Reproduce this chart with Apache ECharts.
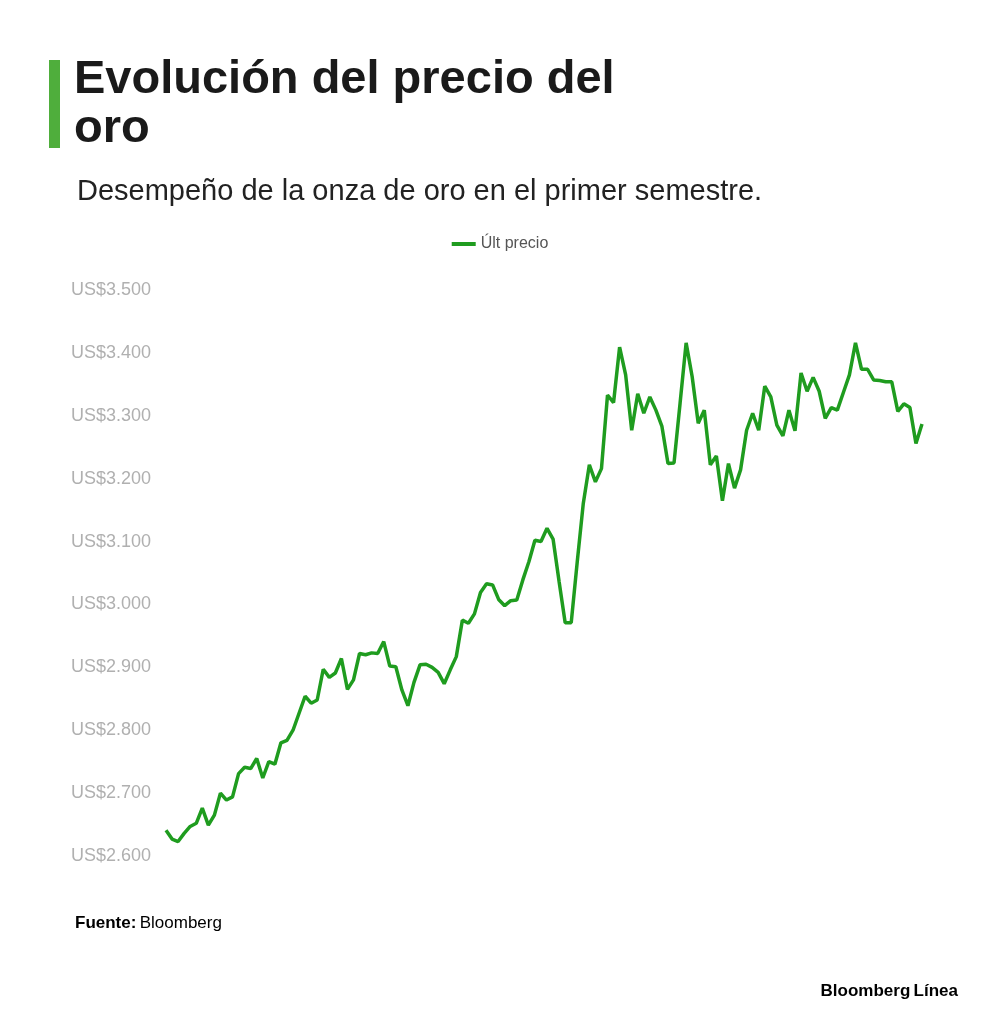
<!DOCTYPE html>
<html><head><meta charset="utf-8">
<script src="https://cdn.jsdelivr.net/npm/echarts@6/dist/echarts.min.js"></script>
<style>html,body{margin:0;padding:0;background:#fff}#c{width:1000px;height:1034px}</style>
</head><body><div id="c"></div>
<script>
const seriesName = 'Últ precio';
const prices = [
2641,2627,2623,2636,2647,2652,2676,2649,2665,2700,
2689,2694,2731,2741,2739,2755,2724,2750,2746,2780,
2784,2800,2827,2854,2843,2848,2897,2884,2891,2914,
2865,2880,2922,2920,2923,2922,2941,2902,2901,2864,
2839,2876,2904,2905,2900,2892,2874,2896,2917,2975,
2970,2985,3019,3033,3031,3008,2998,3006,3007,3039,
3068,3102,3100,3121,3104,3036,2971,2971,3068,3161,
3222,3195,3216,3333,3321,3409,3365,3277,3335,3304,
3330,3309,3283,3224,3225,3320,3416,3362,3288,3309,
3222,3236,3165,3224,3185,3214,3277,3304,3277,3347,
3330,3285,3268,3309,3276,3368,3339,3361,3339,3296,
3313,3309,3337,3365,3416,3374,3374,3357,3356,3354,
3354,3307,3319,3313,3256,3287];
const days = prices.map((_, i) => 'Día ' + (i + 1));
const yMin = 2600, yMax = 3500, yStep = 100;
const titleLines = ['Evolución del precio del', 'oro'];
const subtitle = 'Desempeño de la onza de oro en el primer semestre.';

const fmt = v => 'US$' + String(v).replace(/\B(?=(\d{3})+(?!\d))/g, '.');
const chart = echarts.init(document.getElementById('c'), null, {renderer: 'canvas'});
const FONT = '"Liberation Sans", Arial, sans-serif';
chart.setOption({
  animation: false,
  backgroundColor: '#fff',
  textStyle: {fontFamily: FONT},
  graphic: [
    {type: 'rect', shape: {x: 49, y: 60, width: 11, height: 88}, style: {fill: '#4fae3c'}},
    {type: 'text', x: 74, y: 80, style: {text: titleLines[0], font: 'bold 47px ' + FONT, fill: '#1a1a1a', textVerticalAlign: 'middle'}},
    {type: 'text', x: 74, y: 129, style: {text: titleLines[1], font: 'bold 47px ' + FONT, fill: '#1a1a1a', textVerticalAlign: 'middle'}},
    {type: 'text', x: 77, y: 192, style: {text: subtitle, font: '29px ' + FONT, fill: '#222', textVerticalAlign: 'middle'}},
    {type: 'text', x: 75, y: 923, style: {text: '{b|Fuente:} {r|Bloomberg}', textVerticalAlign: 'middle',
      rich: {b: {font: 'bold 17px ' + FONT, color: '#222'}, r: {font: '17px ' + FONT, color: '#444'}}}},
    {type: 'text', x: 958, y: 991, style: {text: '{a|Bloomberg} {g|Línea}', textAlign: 'right', textVerticalAlign: 'middle',
      rich: {a: {font: 'bold 17px ' + FONT, color: '#222'}, g: {font: 'bold 17px ' + FONT, color: '#4cb648'}}}}
  ],
  legend: {
    top: 231, left: 'center', icon: 'rect', itemWidth: 24, itemHeight: 4, itemGap: 9,
    textStyle: {fontSize: 16, color: '#555', fontFamily: FONT},
    data: [seriesName]
  },
  grid: {left: 166, right: 78, top: 290, bottom: 178, containLabel: false},
  xAxis: {type: 'category', data: days, boundaryGap: false,
    axisLine: {show: false}, axisTick: {show: false}, axisLabel: {show: false}, splitLine: {show: false}},
  yAxis: {type: 'value', min: yMin, max: yMax, interval: yStep,
    axisLine: {show: false}, axisTick: {show: false}, splitLine: {show: false},
    axisLabel: {formatter: fmt, align: 'left', margin: 95, fontSize: 18, color: '#b0b0b0', fontFamily: FONT}},
  series: [{
    name: seriesName, type: 'line', data: prices, showSymbol: false, symbol: 'none',
    lineStyle: {width: 3.5, color: '#1f9c1f'}, itemStyle: {color: '#1f9c1f'}
  }]
});
</script></body></html>
